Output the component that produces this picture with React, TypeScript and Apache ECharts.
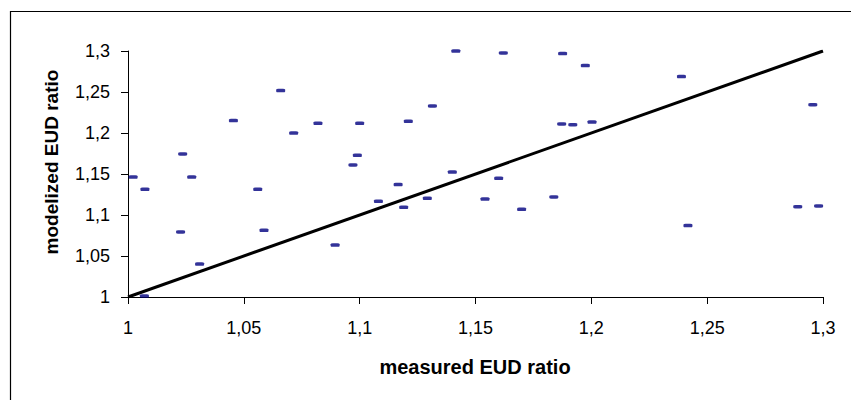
import React, { useEffect, useRef } from "react";
import * as echarts from "echarts";

const measured: number[] = [
  1.0022, 1.0073, 1.0071, 1.0227, 1.0236, 1.0275, 1.0309, 1.0455, 1.056, 1.0587,
  1.0659, 1.0715, 1.082, 1.0894, 1.0971, 1.099, 1.1, 1.1081, 1.1166, 1.119,
  1.121, 1.1292, 1.1314, 1.14, 1.1415, 1.162, 1.1876, 1.1974, 1.2389, 1.2956,
  1.1872, 1.192, 1.2003, 1.16, 1.1541, 1.1699, 1.1838, 1.2417, 1.2891, 1.2981,
];
const modelized: number[] = [
  1.1463, 1.1313, 1.0012, 1.0793, 1.1744, 1.1463, 1.0402, 1.2151, 1.1313, 1.0813,
  1.2517, 1.2, 1.2118, 1.0634, 1.161, 1.1728, 1.2118, 1.1167, 1.1371, 1.1094,
  1.2143, 1.1204, 1.233, 1.1524, 1.3, 1.2976, 1.2968, 1.2822, 1.2688, 1.2346,
  1.211, 1.2102, 1.2134, 1.1448, 1.1195, 1.107, 1.122, 1.0871, 1.1102, 1.111,
];
const identityLine: number[][] = [
  [1, 1],
  [1.3, 1.3],
];
const axisMin = 1;
const axisMax = 1.3;
const axisStep = 0.05;
const xTitle = "measured EUD ratio";
const yTitle = "modelized EUD ratio";

const fmt = (v: number) => String(+v.toFixed(2)).replace(".", ",");

export default function App() {
  const ref = useRef<HTMLDivElement>(null);
  useEffect(() => {
    if (!ref.current) return;
    const chart = echarts.init(ref.current, undefined, { renderer: "svg" });
    const font = "Arial, 'Liberation Sans', sans-serif";
    const axisCommon = {
      type: "value" as const,
      min: axisMin,
      max: axisMax,
      interval: axisStep,
      splitLine: { show: false },
      axisLine: { show: true, onZero: false, lineStyle: { color: "#000", width: 1 } },
      axisTick: { show: true, inside: false, length: 7, lineStyle: { color: "#000", width: 1 } },
      axisLabel: {
        formatter: (v: number) => fmt(v),
        fontFamily: font,
        fontSize: 18,
        color: "#000",
        margin: 18,
      },
    };
    chart.setOption({
      animation: false,
      backgroundColor: "#fff",
      grid: { left: 128, right: 28, top: 51, bottom: 103, containLabel: false },
      xAxis: { ...axisCommon, axisLabel: { ...axisCommon.axisLabel, margin: 22 } },
      yAxis: { ...axisCommon },
      graphic: [
        {
          type: "rect",
          shape: { x: 10.5, y: 11.5, width: 860, height: 420 },
          style: { fill: "none", stroke: "#000", lineWidth: 1.2 },
          silent: true,
          z: 100,
        },
        {
          type: "text",
          x: 475,
          y: 367,
          style: {
            text: xTitle,
            font: `bold 20px ${font}`,
            fill: "#000",
            align: "center",
            verticalAlign: "middle",
          },
        },
        {
          type: "text",
          x: 51,
          y: 162,
          rotation: Math.PI / 2,
          style: {
            text: yTitle,
            font: `bold 19px ${font}`,
            fill: "#000",
            align: "center",
            verticalAlign: "middle",
          },
        },
      ],
      series: [
        {
          type: "line",
          data: identityLine,
          symbol: "none",
          lineStyle: { color: "#000", width: 3 },
          z: 2,
        },
        {
          type: "scatter",
          data: measured.map((x, i) => [x, modelized[i]]),
          symbol: "roundRect",
          symbolSize: [9, 3.5],
          itemStyle: { color: "#000080" },
          z: 3,
        },
      ],
    });
    return () => chart.dispose();
  }, []);
  return (
    <div
      ref={ref}
      style={{ position: "fixed", left: 0, top: 0, width: 851, height: 400 }}
    />
  );
}
